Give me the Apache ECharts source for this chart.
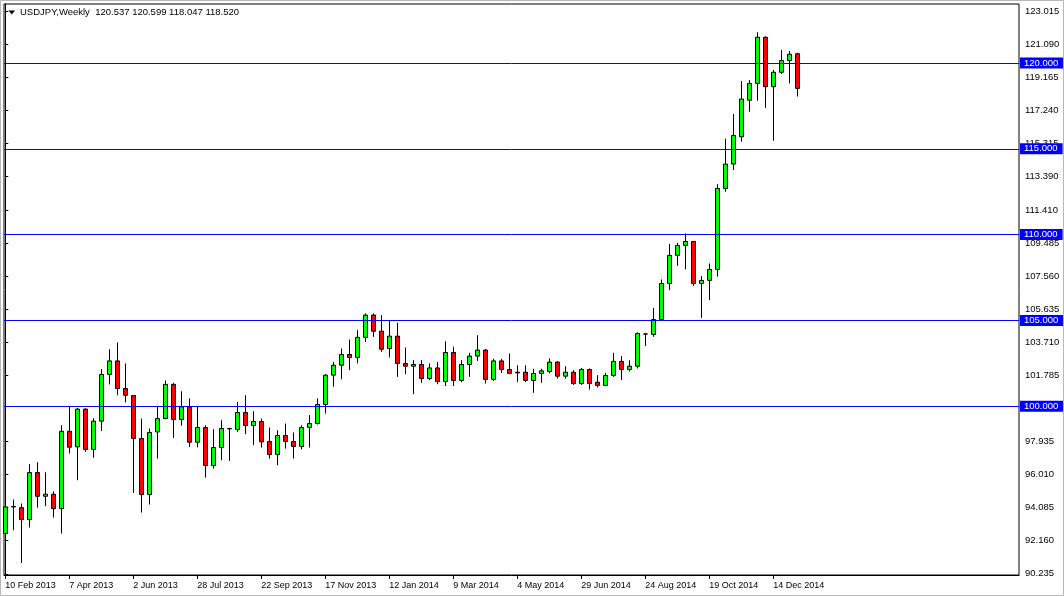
<!DOCTYPE html>
<html>
<head>
<meta charset="utf-8">
<script src="https://cdn.jsdelivr.net/npm/echarts@6/dist/echarts.min.js"></script>
<style>
html,body{margin:0;padding:0;background:#fff;}
#chart{width:1064px;height:596px;}
</style>
</head>
<body>
<div id="chart"></div>
<script>
// ---- data (weekly USDJPY, index 0 = week of 10 Feb 2013) ----
const symbolTitle = 'USDJPY,Weekly';
const opens = [92.58,94.13,94.09,93.39,96.13,94.75,94.87,94.03,98.54,97.63,
  99.83,97.48,99.13,101.85,102.64,101.03,100.62,98.12,94.85,98.50,
  99.28,101.27,99.22,99.96,97.90,98.76,96.54,97.59,98.70,98.64,
  99.63,98.87,99.11,97.94,97.18,98.29,97.94,97.65,98.76,98.99,
  100.10,101.81,102.39,103.01,102.84,104.01,105.31,104.37,103.36,104.08,
  102.49,102.33,102.43,101.61,102.23,101.44,103.13,101.50,102.43,102.92,
  103.27,101.56,102.64,102.14,101.98,101.98,101.50,101.91,102.02,102.57,
  101.75,101.98,101.32,102.14,101.40,101.21,101.79,102.61,102.14,102.33,
  104.20,104.18,105.05,107.15,108.79,109.37,109.60,107.15,107.33,107.97,
  112.69,114.11,115.70,117.83,118.81,121.50,118.62,119.46,120.14,120.537];
const highs = [94.52,94.56,94.33,96.62,96.73,96.15,95.04,98.89,99.96,99.90,
  99.88,99.30,102.16,103.32,103.71,102.49,100.64,99.28,98.70,100.02,
  101.50,101.36,100.87,100.45,99.96,98.89,98.66,99.18,98.74,100.25,
  100.64,99.71,99.28,98.76,98.60,98.99,98.47,98.89,99.48,100.45,
  101.87,102.58,103.36,103.89,104.43,105.41,105.41,105.31,104.97,104.86,
  103.42,102.68,102.68,102.49,102.58,103.79,103.46,102.68,103.11,104.14,
  103.34,102.76,102.76,103.07,102.39,102.39,102.18,102.18,102.78,102.62,
  102.33,102.10,102.23,102.20,101.81,101.94,103.11,102.92,102.68,104.30,
  104.27,105.73,107.39,109.45,109.52,110.07,109.62,107.58,108.32,112.94,
  115.59,117.03,118.95,119.01,121.79,121.55,119.59,120.76,120.70,120.599];
const lows = [92.19,92.77,90.86,92.93,94.09,94.17,93.51,92.58,97.24,95.69,
  97.34,97.00,98.56,101.27,100.64,100.22,94.94,93.80,94.27,96.95,
  99.24,98.15,98.87,97.63,97.60,95.84,96.37,96.85,96.81,98.50,
  98.37,97.73,97.59,96.95,96.56,97.53,96.95,97.48,97.59,98.93,
  99.57,101.13,101.57,102.10,102.49,103.75,104.04,103.17,102.84,101.71,
  101.87,100.70,101.36,101.52,101.28,101.17,101.17,101.40,101.71,102.64,
  101.32,101.48,101.94,101.87,101.42,101.40,100.78,101.36,101.91,101.61,
  101.61,101.24,101.24,100.97,101.09,101.17,101.71,101.52,102.02,102.20,
  103.50,104.04,105.01,106.76,108.18,107.97,107.01,105.15,106.18,107.55,
  112.50,113.76,115.41,117.16,117.80,117.39,115.47,119.36,118.81,118.047];
const closes = [94.13,94.15,93.39,96.13,94.75,94.87,94.03,98.54,97.61,99.83,
  97.48,99.13,101.85,102.64,101.03,100.64,98.12,94.85,98.47,99.28,
  101.27,99.22,99.96,97.90,98.76,96.54,97.59,98.70,98.68,99.63,
  98.87,99.11,97.92,97.18,98.29,97.94,97.65,98.76,98.99,100.10,
  101.81,102.39,103.01,102.84,104.01,105.31,104.37,103.32,104.08,102.49,
  102.33,102.43,101.61,102.23,101.44,103.13,101.50,102.43,102.92,103.27,
  101.56,102.64,102.14,101.91,101.94,101.50,101.91,102.06,102.57,101.75,
  101.98,101.32,102.14,101.32,101.21,101.79,102.61,102.14,102.33,104.24,
  104.21,105.05,107.15,108.79,109.37,109.60,107.15,107.33,107.97,112.69,
  114.11,115.78,117.90,118.81,121.50,118.62,119.46,120.14,120.51,118.520];
const xTickIndexes = [0,8,16,24,32,40,48,56,64,72,80,88,96];
const xTickLabels = ['10 Feb 2013','7 Apr 2013','2 Jun 2013','28 Jul 2013','22 Sep 2013','17 Nov 2013',
  '12 Jan 2014','9 Mar 2014','4 May 2014','29 Jun 2014','24 Aug 2014','19 Oct 2014','14 Dec 2014'];
const yTicks = [123.015,121.090,119.165,117.240,115.315,113.390,111.410,109.485,107.560,
  105.635,103.710,101.785,97.935,96.010,94.085,92.160,90.235];
const levelLines = [120, 115, 110, 105, 100];

// ---- chart ----
const FONT = 'Liberation Sans';
const candleData = opens.map((o, i) => [i, o, closes[i], lows[i], highs[i]]);
const last = opens.length - 1;
const headerText = symbolTitle + '  ' + [opens[last], highs[last], lows[last], closes[last]]
  .map(v => v.toFixed(3)).join(' ');

const chart = echarts.init(document.getElementById('chart'), null, {renderer: 'canvas'});
const markData = levelLines.map(v => ({
  yAxis: v,
  lineStyle: {color: '#0000ff', width: 1, type: 'solid'},
  label: {backgroundColor: '#0000ff'}
}));
markData.push({
  yAxis: closes[last],
  lineStyle: {opacity: 0},
  label: {backgroundColor: '#000000'}
});

chart.setOption({
  animation: false,
  backgroundColor: '#ffffff',
  grid: {left: 4, right: 45, top: 4, bottom: 21, show: true, borderColor: '#000', borderWidth: 1, backgroundColor: '#fff'},
  xAxis: {
    type: 'value',
    min: -0.1625,
    max: 126.7125,
    axisLine: {show: true, lineStyle: {color: '#000', width: 1}},
    axisTick: {show: true, length: 4, lineStyle: {color: '#000'}, customValues: xTickIndexes},
    axisLabel: {
      customValues: xTickIndexes,
      formatter: v => xTickLabels[xTickIndexes.indexOf(v)] || '',
      align: 'left', margin: 6, color: '#000', fontFamily: FONT, fontSize: 9,
      showMinLabel: true, showMaxLabel: true, hideOverlap: false
    },
    splitLine: {show: false}
  },
  yAxis: {
    type: 'value',
    position: 'right',
    min: 90.163,
    max: 123.438,
    axisLine: {show: true, lineStyle: {color: '#000', width: 1}},
    axisTick: {show: true, length: 3, lineStyle: {color: '#000'}, customValues: yTicks},
    axisLabel: {
      customValues: yTicks,
      formatter: v => v.toFixed(3),
      margin: 6, color: '#000', fontFamily: FONT, fontSize: 9.5,
      showMinLabel: true, showMaxLabel: true, hideOverlap: false
    },
    splitLine: {show: false}
  },
  series: [{
    type: 'candlestick',
    data: candleData,
    barWidth: 5,
    clip: true,
    itemStyle: {
      color: '#00ff00', color0: '#ff0000',
      borderColor: '#000', borderColor0: '#000', borderColorDoji: '#000',
      borderWidth: 1
    },
    markLine: {
      silent: true,
      symbol: 'none',
      animation: false,
      data: markData,
      label: {
        show: true,
        position: 'end',
        distance: 1,
        formatter: p => Number(p.value).toFixed(3),
        color: '#fff',
        fontFamily: FONT,
        fontSize: 9.5,
        lineHeight: 10,
        padding: [1, 5, 0, 4],
        borderRadius: 0
      },
      emphasis: {disabled: true}
    }
  }],
  graphic: [
    {type: 'rect', shape: {x: 0.5, y: 0.5, width: 1063, height: 595}, style: {fill: 'none', stroke: '#b8b8b8', lineWidth: 1}, silent: true, z: 100},
    {type: 'polygon', shape: {points: [[8.5, 10.5], [15, 10.5], [11.75, 14.5]]}, style: {fill: '#000'}, silent: true, z: 100},
    {type: 'text', left: 20, top: 7, style: {text: headerText, fill: '#000', font: '9.5px "Liberation Sans"'}, silent: true, z: 100}
  ]
});
</script>
</body>
</html>
